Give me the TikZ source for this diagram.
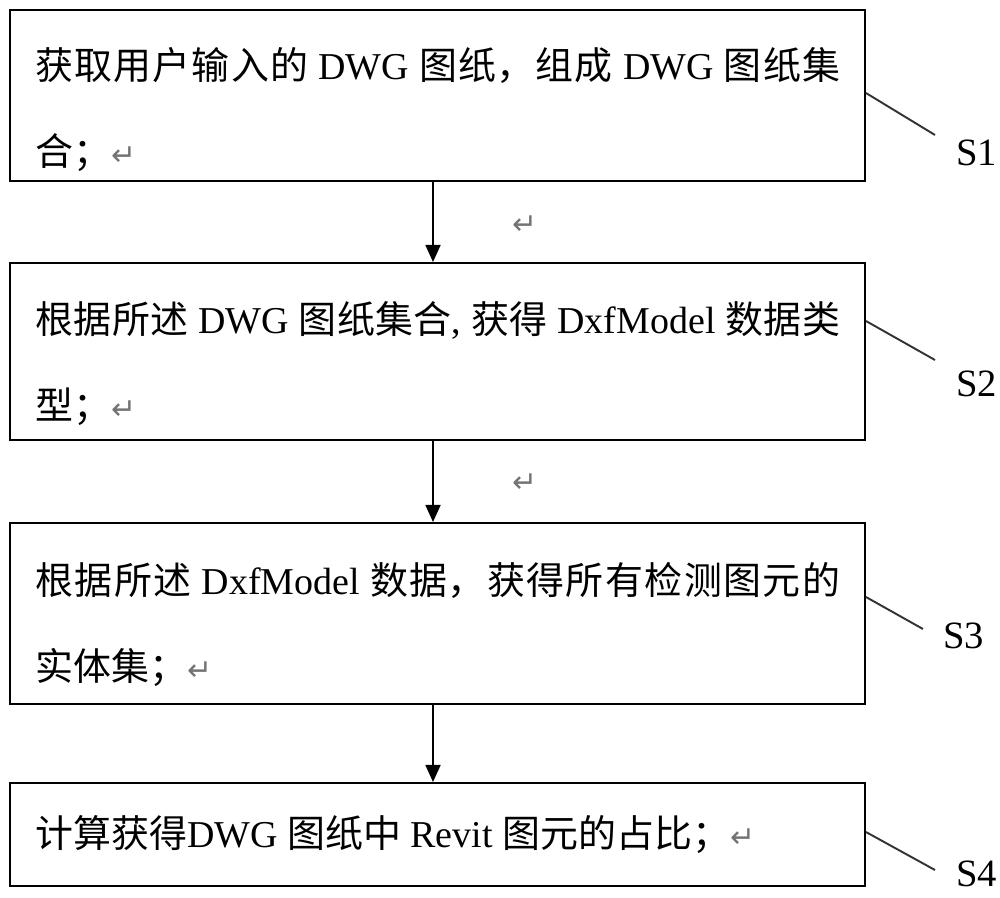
\documentclass[tikz,border=0pt]{standalone}
\usepackage{fontspec}
\setmainfont{Liberation Serif}
\newfontfamily\cjk{Noto Sans CJK SC}
\newfontfamily\symb{DejaVu Sans}
\usepackage{xcolor}
\usetikzlibrary{arrows.meta}
\XeTeXlinebreaklocale "zh"
\XeTeXlinebreakskip=0pt plus 4pt
\newcommand{\zh}[1]{{\cjk #1}}
\newcommand{\retmark}{{\symb\fontsize{17pt}{17pt}\selectfont\color{black!55}↵}}

\begin{document}
\begin{tikzpicture}[x=0.02cm, y=-0.02cm,
	box/.style={draw, line width=1.2pt, minimum width=17.1cm, inner sep=0pt},
	txt/.style={anchor=base west, inner sep=0pt, text width=16.1cm, align=justify, font=\fontsize{21.6pt}{49.5pt}\selectfont},
	tag/.style={anchor=west, inner sep=0pt, font=\fontsize{22pt}{26pt}\selectfont},
	flow/.style={-{Triangle[length=0.34cm,width=0.3cm]}, line width=1pt},
	leader/.style={draw=black!80, line width=1.1pt}]

		\useasboundingbox (0,0) rectangle (1000,897);

		\node[box, minimum height=3.42cm] (b1) at (437.5,95.5) {};
		\node[box, minimum height=3.54cm] (b2) at (437.5,351.5) {};
		\node[box, minimum height=3.62cm] (b3) at (437.5,613.5) {};
		\node[box, minimum height=2.06cm] (b4) at (437.5,834.5) {};

		\node[txt] (t1) at (35,79) {\zh{获取用户输入的} DWG \zh{图纸，组成} DWG \zh{图纸集}\linebreak\zh{合；}\retmark};
		\node[txt] (t2) at (35,333) {\zh{根据所述} DWG \zh{图纸集合}, \zh{获得} DxfModel \zh{数据类}\linebreak\zh{型；}\retmark};
		\node[txt] (t3) at (35,594) {\zh{根据所述} DxfModel \zh{数据，获得所有检测图元的}\linebreak\zh{实体集；}\retmark};
		\node[txt] (t4) at (35,847) {\zh{计算获得}DWG \zh{图纸中} Revit \zh{图元的占比；}\retmark};

		\draw[flow] ([xshift=-0.09cm]b1.south) -- ([xshift=-0.09cm]b2.north);
		\draw[flow] ([xshift=-0.09cm]b2.south) -- ([xshift=-0.09cm]b3.north);
		\draw[flow] ([xshift=-0.09cm]b3.south) -- ([xshift=-0.09cm]b4.north);
		\node (r1) at (525,225) {\retmark};
		\node (r2) at (525,483) {\retmark};

		\node[tag] (s1) at (956,153) {S1};
		\node[tag] (s2) at (956,384) {S2};
		\node[tag] (s3) at (943,636) {S3};
		\node[tag] (s4) at (956,874) {S4};

		\coordinate (e1) at (935,135);
		\coordinate (e2) at (935,360);
		\coordinate (e3) at (923,629);
		\coordinate (e4) at (935,870);
		\draw[leader] (b1.east |- 0,93) -- (e1);
		\draw[leader] (b2.east |- 0,321) -- (e2);
		\draw[leader] (b3.east |- 0,597) -- (e3);
		\draw[leader] (b4.east |- 0,832) -- (e4);

\end{tikzpicture}
\end{document}
